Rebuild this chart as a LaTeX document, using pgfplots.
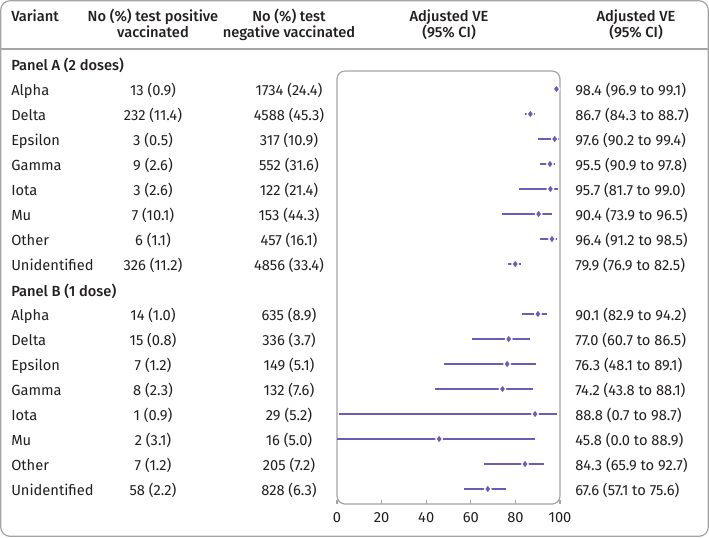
\documentclass[border=0pt]{standalone}
\usepackage{fontspec}
\setmainfont{Fira Sans}[BoldFont={* Medium}]
\usepackage{pgfplots}
\pgfplotsset{compat=1.18}
\usepackage{pgfplotstable}
\definecolor{ve}{RGB}{108,92,181}
\definecolor{frm}{RGB}{165,165,165}
\definecolor{txt}{RGB}{35,31,32}

\pgfplotstableread{
y ve lo hi
89  98.4 96.9 99.1
114 86.7 84.3 88.7
139 97.6 90.2 99.4
164 95.5 90.9 97.8
189 95.7 81.7 99.0
214 90.4 73.9 96.5
239 96.4 91.2 98.5
264 79.9 76.9 82.5
}\panelA

\pgfplotstableread{
y ve lo hi
314 90.1 82.9 94.2
339 77.0 60.7 86.5
364 76.3 48.1 89.1
389 74.2 43.8 88.1
414 88.8 0.7 98.7
439 45.8 0.0 88.9
464 84.3 65.9 92.7
489 67.6 57.1 75.6
}\panelB

\begin{document}
\begin{tikzpicture}[font=\fontsize{11}{13}\selectfont, text=txt]
\begin{scope}[x=0.75pt,y=-0.75pt]
\useasboundingbox (0,0) rectangle (709,537);
\draw[frm, line width=0.9pt, rounded corners=7pt] (0.7,0.7) rectangle (708.3,536.3);
\draw[frm, line width=0.9pt] (0.7,49) -- (708.3,49);
% header
\begin{scope}[every node/.style={font=\fontsize{11}{13}\selectfont\bfseries, inner sep=0pt}]
\node[anchor=base west] at (11,21) {Variant};
\node[anchor=base] at (153,21) {No (\%) test positive};
\node[anchor=base] at (153,37) {vaccinated};
\node[anchor=base] at (289,21) {No (\%) test};
\node[anchor=base] at (289,37) {negative vaccinated};
\node[anchor=base] at (449,21) {Adjusted VE};
\node[anchor=base] at (449,37) {(95\% CI)};
\node[anchor=base] at (636,21) {Adjusted VE};
\node[anchor=base] at (636,37) {(95\% CI)};
\node[anchor=base west] at (11,70) {Panel A (2 doses)};
\node[anchor=base west] at (11,296) {Panel B (1 dose)};
\end{scope}
\begin{scope}[every node/.style={inner sep=0pt}]
\foreach \b/\v/\p/\n/\e in {
 95/Alpha/13 (0.9)/1734 (24.4)/98.4 (96.9 to 99.1),
 120/Delta/232 (11.4)/4588 (45.3)/86.7 (84.3 to 88.7),
 145/Epsilon/3 (0.5)/317 (10.9)/97.6 (90.2 to 99.4),
 170/Gamma/9 (2.6)/552 (31.6)/95.5 (90.9 to 97.8),
 195/Iota/3 (2.6)/122 (21.4)/95.7 (81.7 to 99.0),
 220/Mu/7 (10.1)/153 (44.3)/90.4 (73.9 to 96.5),
 245/Other/6 (1.1)/457 (16.1)/96.4 (91.2 to 98.5),
 270/Unidentified/326 (11.2)/4856 (33.4)/79.9 (76.9 to 82.5),
 320/Alpha/14 (1.0)/635 (8.9)/90.1 (82.9 to 94.2),
 345/Delta/15 (0.8)/336 (3.7)/77.0 (60.7 to 86.5),
 370/Epsilon/7 (1.2)/149 (5.1)/76.3 (48.1 to 89.1),
 395/Gamma/8 (2.3)/132 (7.6)/74.2 (43.8 to 88.1),
 420/Iota/1 (0.9)/29 (5.2)/88.8 (0.7 to 98.7),
 445/Mu/2 (3.1)/16 (5.0)/45.8 (0.0 to 88.9),
 470/Other/7 (1.2)/205 (7.2)/84.3 (65.9 to 92.7),
 495/Unidentified/58 (2.2)/828 (6.3)/67.6 (57.1 to 75.6)}{
  \node[anchor=base west] at (11,\b) {\v};
  \node[anchor=base] at (153,\b) {\p};
  \node[anchor=base] at (289,\b) {\n};
  \node[anchor=base west] at (575,\b) {\e};
}
\end{scope}
\end{scope}
\begin{axis}[
  at={(252.75pt,-53.25pt)}, anchor=north west,
  width=167.25pt, height=324.75pt, scale only axis,
  xmin=0, xmax=100, ymin=71, ymax=504, y dir=reverse,
  clip=false,
  axis line style={draw=none},
  ytick=\empty,
  xtick={0,20,...,100},
  xtick pos=bottom, tick align=inside,
  major tick length=3pt,
  tick style={frm, line width=0.8pt},
  xticklabel style={font=\fontsize{11}{13}\selectfont, text=txt, yshift=-3pt},
  /pgf/number format/assume math mode=true,
]
\draw[frm, line width=0.9pt, rounded corners=6pt] (axis cs:0,71) rectangle (axis cs:100,504);
\addplot[only marks, mark=diamond*, mark size=3.3pt, ve,
  mark options={fill=ve, draw=white, line width=0.9pt},
  error bars/.cd, x dir=both, x explicit, error mark=none,
  error bar style={line width=1.7pt, ve}]
  table[x=ve, y=y, x error plus expr=\thisrow{hi}-\thisrow{ve}, x error minus expr=\thisrow{ve}-\thisrow{lo}] {\panelA};
\addplot[only marks, mark=diamond*, mark size=3.3pt, ve,
  mark options={fill=ve, draw=white, line width=0.9pt},
  error bars/.cd, x dir=both, x explicit, error mark=none,
  error bar style={line width=1.7pt, ve}]
  table[x=ve, y=y, x error plus expr=\thisrow{hi}-\thisrow{ve}, x error minus expr=\thisrow{ve}-\thisrow{lo}] {\panelB};
\end{axis}
\end{tikzpicture}
\end{document}
